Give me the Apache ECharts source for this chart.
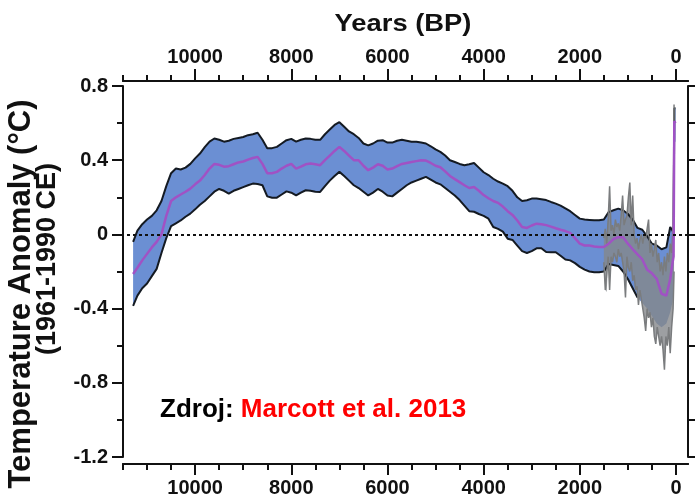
<!DOCTYPE html>
<html>
<head>
<meta charset="utf-8">
<script src="https://cdn.jsdelivr.net/npm/echarts@6/dist/echarts.min.js"></script>
<style>
html,body{margin:0;padding:0;background:#fff;}
#c{width:699px;height:502px;}
</style>
</head>
<body>
<div id="c"></div>
<script>
// ---- Data (years BP) ----
const years = [11290, 11200, 11100, 11000,
  10900, 10800, 10700, 10600, 10500, 10400, 10300, 10200, 10100, 10000,
  9900, 9800, 9700, 9600, 9500, 9400, 9300, 9200, 9100, 9000,
  8900, 8800, 8700, 8600, 8500, 8400, 8300, 8200, 8100, 8000,
  7900, 7800, 7700, 7600, 7500, 7400, 7300, 7200, 7100, 7000,
  6900, 6800, 6700, 6600, 6500, 6400, 6300, 6200, 6100, 6000,
  5900, 5800, 5700, 5600, 5500, 5400, 5300, 5200, 5100, 5000,
  4900, 4800, 4700, 4600, 4500, 4400, 4300, 4200, 4100, 4000,
  3900, 3800, 3700, 3600, 3500, 3400, 3300, 3200, 3100, 3000,
  2900, 2800, 2700, 2600, 2500, 2400, 2300, 2200, 2100, 2000,
  1900, 1800, 1700, 1600, 1500, 1400, 1300, 1200, 1100, 1000,
  900, 800, 700, 600, 500, 400, 300, 200,
  120, 70, 50, 35, 10];

const upper = [-0.04, 0.02, 0.055, 0.08,
  0.10, 0.13, 0.18, 0.26, 0.33, 0.355, 0.35, 0.36, 0.38, 0.41,
  0.436, 0.47, 0.50, 0.517, 0.51, 0.50, 0.505, 0.515, 0.52, 0.525,
  0.535, 0.54, 0.548, 0.51, 0.465, 0.465, 0.472, 0.49, 0.508, 0.515,
  0.50, 0.51, 0.517, 0.515, 0.51, 0.51, 0.54, 0.565, 0.59, 0.605,
  0.58, 0.555, 0.54, 0.52, 0.49, 0.48, 0.49, 0.505, 0.508, 0.495,
  0.495, 0.505, 0.51, 0.505, 0.50, 0.50, 0.495, 0.49, 0.475, 0.458,
  0.445, 0.425, 0.40, 0.39, 0.38, 0.373, 0.378, 0.385, 0.36, 0.335,
  0.32, 0.30, 0.285, 0.274, 0.26, 0.235, 0.20, 0.18, 0.184, 0.193,
  0.193, 0.19, 0.185, 0.175, 0.166, 0.155, 0.14, 0.125, 0.105, 0.085,
  0.08, 0.078, 0.076, 0.076, 0.08, 0.12, 0.13, 0.139, 0.13, 0.11,
  0.08, 0.035, 0.025, -0.01, -0.05, -0.06, -0.08, -0.07,
  0.04, 0.02, 0.0, 0.68, 0.68];

const lower = [-0.385, -0.33, -0.29, -0.265,
  -0.225, -0.186, -0.10, -0.02, 0.045, 0.06, 0.075, 0.095, 0.112, 0.135,
  0.16, 0.18, 0.205, 0.23, 0.245, 0.235, 0.22, 0.235, 0.245, 0.255,
  0.265, 0.274, 0.272, 0.265, 0.205, 0.198, 0.198, 0.215, 0.232, 0.225,
  0.21, 0.225, 0.238, 0.235, 0.23, 0.229, 0.26, 0.29, 0.315, 0.337,
  0.315, 0.29, 0.265, 0.25, 0.23, 0.21, 0.225, 0.245, 0.23, 0.21,
  0.205, 0.225, 0.245, 0.265, 0.28, 0.29, 0.30, 0.31, 0.295, 0.28,
  0.27, 0.25, 0.23, 0.21, 0.185, 0.155, 0.125, 0.122, 0.11, 0.10,
  0.085, 0.04, 0.03, 0.015, -0.023, -0.03, -0.06, -0.09, -0.10, -0.09,
  -0.075, -0.075, -0.095, -0.096, -0.096, -0.115, -0.135, -0.14, -0.155, -0.175,
  -0.19, -0.2, -0.204, -0.204, -0.2, -0.16, -0.165, -0.17, -0.2, -0.24,
  -0.29, -0.34, -0.37, -0.40, -0.44, -0.48, -0.50, -0.48,
  -0.42, -0.36, -0.3, 0.5, 0.5];

const mean = [-0.213, -0.18, -0.14, -0.105,
  -0.07, -0.04, 0.0, 0.10, 0.18, 0.20, 0.215, 0.23, 0.247, 0.27,
  0.29, 0.32, 0.355, 0.38, 0.375, 0.365, 0.368, 0.378, 0.388, 0.393,
  0.403, 0.412, 0.418, 0.38, 0.33, 0.33, 0.337, 0.355, 0.37, 0.38,
  0.355, 0.365, 0.378, 0.382, 0.378, 0.373, 0.40, 0.425, 0.45, 0.472,
  0.45, 0.425, 0.40, 0.40, 0.37, 0.346, 0.36, 0.378, 0.37, 0.35,
  0.355, 0.368, 0.38, 0.385, 0.39, 0.395, 0.40, 0.398, 0.385, 0.37,
  0.362, 0.34, 0.315, 0.298, 0.282, 0.265, 0.25, 0.255, 0.235, 0.212,
  0.195, 0.18, 0.17, 0.15, 0.125, 0.105, 0.075, 0.04, 0.035, 0.048,
  0.058, 0.055, 0.05, 0.042, 0.033, 0.025, 0.018, 0.008, -0.02, -0.05,
  -0.06, -0.06, -0.065, -0.068, -0.068, -0.05, -0.025, -0.015, -0.015, -0.05,
  -0.08, -0.108, -0.135, -0.19, -0.21, -0.24, -0.32, -0.33,
  -0.24, -0.15, -0.12, 0.61, 0.60];

// the lower black outline is hidden under the grey envelope after this age
const lowerOutlineUntil = 750;

// high-resolution (grey) envelope
const greyYears = [1500, 1470, 1440, 1410, 1380, 1350, 1320, 1290, 1260, 1230,
  1200, 1170, 1140, 1110, 1080, 1050, 1020, 990, 960, 930,
  900, 870, 840, 810, 780, 750, 720, 690, 660, 630,
  600, 570, 540, 510, 480, 450, 420, 390, 360, 330,
  300, 270, 240, 210, 180, 150, 120, 90, 60, 40];
const greyHi = [-0.02, 0.03, -0.05, 0.08, 0.26, 0.02, 0.05, 0.0, 0.08, 0.04,
  0.06, 0.02, 0.1, 0.21, 0.05, 0.08, 0.1, 0.2, 0.28, 0.05,
  0.21, 0.0, -0.05, -0.02, -0.08, -0.03, 0.0, -0.05, 0.0, -0.02,
  0.03, 0.08, -0.1, -0.05, -0.12, -0.08, -0.03, -0.15, -0.1, -0.2,
  -0.15, -0.22, -0.12, -0.2, -0.1, -0.15, -0.05, -0.1, 0.05, 0.7];
const greyLo = [-0.15, -0.3, -0.31, -0.12, -0.3, -0.12, -0.15, -0.1, -0.12, -0.15,
  -0.08, -0.12, -0.1, -0.15, -0.2, -0.34, -0.12, -0.18, -0.2, -0.15,
  -0.25, -0.22, -0.3, -0.28, -0.38, -0.3, -0.35, -0.4, -0.45, -0.52,
  -0.4, -0.45, -0.42, -0.5, -0.45, -0.55, -0.59, -0.5, -0.55, -0.6,
  -0.55, -0.62, -0.73, -0.55, -0.6, -0.5, -0.64, -0.5, -0.4, -0.2];

// tick labels
const xMajorTicks = [10000, 8000, 6000, 4000, 2000, 0];
const xMinorTicks = [11500, 11000, 10500, 9500, 9000, 8500, 7500, 7000, 6500,
  5500, 5000, 4500, 3500, 3000, 2500, 1500, 1000, 500];

// ---- Build ----
const FONT = '"Liberation Sans", Arial, Helvetica, sans-serif';
const pair = (xs, ys) => xs.map((x, i) => [x, ys[i]]);

// polygon band drawn through the axes' scales (api.coord)
function bandSeries(xs, hi, lo, fill, opacity) {
  return {
    type: 'custom', silent: true, clip: true,
    data: [[xs[0], hi[0]]],
    renderItem: function (params, api) {
      const pts = [];
      for (let i = 0; i < xs.length; i++) pts.push(api.coord([xs[i], hi[i]]));
      for (let i = xs.length - 1; i >= 0; i--) pts.push(api.coord([xs[i], lo[i]]));
      return { type: 'polygon', shape: { points: pts },
        style: { fill: fill, opacity: opacity, stroke: null } };
    }
  };
}

function xAxisDef(pos, offset, ticks, len, showLabel) {
  return {
    type: 'value', position: pos, offset: offset, inverse: true,
    min: -250, max: 11500,
    axisLine: { show: true, onZero: false, lineStyle: { color: '#111', width: 2 } },
    axisTick: { show: true, inside: false, length: len, customValues: ticks,
      lineStyle: { color: '#111', width: 2 } },
    axisLabel: { show: showLabel, customValues: ticks, margin: 14,
      formatter: v => String(v),
      color: '#111', fontFamily: FONT, fontWeight: 'bold', fontSize: 20 },
    splitLine: { show: false }
  };
}

const chart = echarts.init(document.getElementById('c'), null, { renderer: 'canvas' });
const option = {
  animation: false,
  backgroundColor: '#fff',
  grid: { left: 123, right: 11, top: 86, bottom: 45, containLabel: false },
  xAxis: [
    xAxisDef('bottom', 7, xMajorTicks, 11, true),
    xAxisDef('bottom', 7, xMinorTicks, 6, false),
    xAxisDef('top', 5, xMajorTicks, 12, true),
    xAxisDef('top', 5, xMinorTicks, 6, false)
  ],
  yAxis: [
    {
      type: 'value', position: 'left', min: -1.2, max: 0.8, interval: 0.4,
      axisLine: { show: true, onZero: false, lineStyle: { color: '#111', width: 2 } },
      axisTick: { show: true, inside: false, length: 11, lineStyle: { color: '#111', width: 2 } },
      minorTick: { show: true, splitNumber: 2, length: 6, lineStyle: { color: '#111', width: 2 } },
      axisLabel: { margin: 15, color: '#111', fontFamily: FONT, fontWeight: 'bold', fontSize: 20 },
      splitLine: { show: false }, minorSplitLine: { show: false }
    },
    {
      type: 'value', position: 'right', min: -1.2, max: 0.8, interval: 0.4,
      axisLine: { show: true, onZero: false, lineStyle: { color: '#111', width: 2 } },
      axisTick: { show: true, inside: false, length: 7, lineStyle: { color: '#111', width: 2 } },
      minorTick: { show: true, splitNumber: 2, length: 7, lineStyle: { color: '#111', width: 2 } },
      axisLabel: { show: false },
      splitLine: { show: false }, minorSplitLine: { show: false }
    }
  ],
  series: [
    bandSeries(years, upper, lower, '#6b8fd3', 1),
    { type: 'line', data: pair(years, upper), symbol: 'none', silent: true,
      lineStyle: { color: '#141a22', width: 2 } },
    { type: 'line', data: pair(years, lower).filter(p => p[0] >= lowerOutlineUntil),
      symbol: 'none', silent: true,
      lineStyle: { color: '#141a22', width: 2 } },
    bandSeries(greyYears, greyHi, greyLo, '#84878b', 0.8),
    { type: 'line', data: pair(greyYears, greyHi), symbol: 'none', silent: true,
      lineStyle: { color: '#7a7c7e', width: 1.5 } },
    { type: 'line', data: pair(greyYears, greyLo), symbol: 'none', silent: true,
      lineStyle: { color: '#7a7c7e', width: 1.5 } },
    { type: 'line', data: pair(years, mean), symbol: 'none', silent: true,
      lineStyle: { color: '#a052c4', width: 2.5 },
      markLine: { silent: true, symbol: 'none', label: { show: false },
        lineStyle: { color: '#111', width: 2, type: [3, 3] },
        data: [{ yAxis: 0 }] } }
  ],
  graphic: [
    { type: 'text', x: 403, y: 24, scaleX: 1.14,
      style: { text: 'Years (BP)', fill: '#111', font: 'bold 24px ' + FONT,
        align: 'center', verticalAlign: 'middle' } },
    { type: 'text', x: 21, y: 294, rotation: Math.PI / 2,
      style: { text: 'Temperature Anomaly (\u00B0C)', fill: '#111', font: 'bold 31px ' + FONT,
        align: 'center', verticalAlign: 'middle' } },
    { type: 'text', x: 48, y: 259, rotation: Math.PI / 2,
      style: { text: '(1961-1990 CE)', fill: '#111', font: 'bold 27px ' + FONT,
        align: 'center', verticalAlign: 'middle' } },
    { type: 'text', x: 160, y: 410,
      style: { text: '{a|Zdroj: }{b|Marcott et al. 2013}', align: 'left', verticalAlign: 'middle',
        font: 'bold 26px ' + FONT,
        rich: {
          a: { fill: '#000', font: 'bold 26px ' + FONT },
          b: { fill: '#ff0000', font: 'bold 26px ' + FONT }
        } } }
  ]
};
chart.setOption(option);
</script>
</body>
</html>
